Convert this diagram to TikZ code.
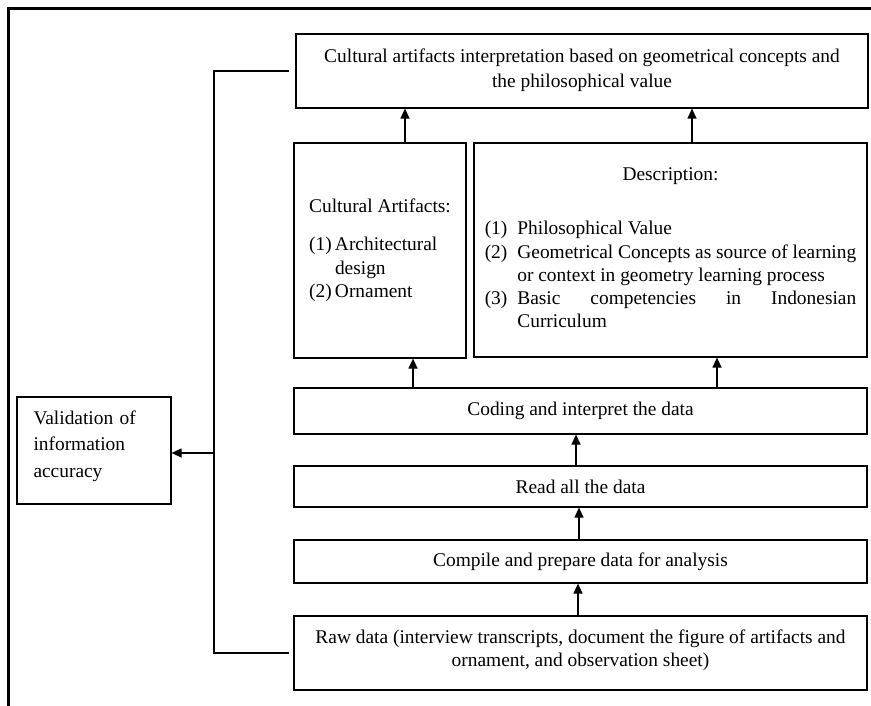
\documentclass[tikz,border=0pt]{standalone}
\usepackage{fontspec}
\setmainfont{Liberation Serif}
\usetikzlibrary{arrows.meta}
\newlength\desclen

\tikzset{
  flowbox/.style={draw, line width=1.2pt, inner sep=0pt, align=center,
    font=\fontsize{19.4}{25}\selectfont},
  wide/.style={flowbox, minimum width=573pt},
}

\begin{document}
\begin{tikzpicture}[x=1pt, y=-1pt, line width=1.2pt, >={Triangle[width=9pt,length=10pt]}]
  \useasboundingbox (0,0) rectangle (871,706);
  % Rahmen oben und links
  \draw[line width=3pt] (8,706) -- (8,9) -- (871,9);

  % Kaesten
  \node[flowbox, minimum width=572pt, minimum height=74pt] (interp) at (582,71)
    {Cultural artifacts interpretation based on geometrical concepts and\\the philosophical value\rule[-6pt]{0pt}{0pt}};
  \node[flowbox, minimum width=172pt, minimum height=215pt, font=\fontsize{19.4}{23.5}\selectfont] (artif) at (380,250.5)
    {\begin{tabular}{@{}l@{\,}l@{}}\multicolumn{2}{@{}l@{}}{Cultural Artifacts:}\\[15pt]
      (1)&Architectural\\&design\\(2)&Ornament\end{tabular}};
  \node[flowbox, minimum width=393pt, minimum height=214pt, font=\fontsize{19.4}{23.25}\selectfont] (descr) at (670.5,250)
    {\settowidth{\desclen}{Geometrical Concepts as source of learning}%
     \begin{tabular}{@{}l@{\hspace{10pt}}l@{}}\multicolumn{2}{c}{Description:}\\[31pt]
      (1)&Philosophical Value\\
      (2)&Geometrical Concepts as source of learning\\
      &or context in geometry learning process\\
      (3)&\makebox[\desclen][s]{Basic competencies in Indonesian}\\
      &Curriculum\rule[-8pt]{0pt}{0pt}\end{tabular}};
  \node[wide, minimum height=46pt] (code) at (580.5,411) {Coding and interpret the data};
  \node[wide, minimum height=41pt] (read) at (580.5,486.5) {Read all the data};
  \node[wide, minimum height=43pt] (comp) at (580.5,561.5) {Compile and prepare data for analysis};
  \node[wide, minimum height=74pt, font=\fontsize{19.4}{23}\selectfont] (raw) at (580.5,653)
    {Raw data (interview transcripts, document the figure of artifacts and\\ornament, and observation sheet)\rule[-9pt]{0pt}{0pt}};
  \node[flowbox, minimum width=154pt, minimum height=107pt, text width=121pt, align=left,
    font=\fontsize{19.4}{26.5}\selectfont] (valid) at (94,450.5)
    {Validation of\\information\\accuracy\rule[-13pt]{0pt}{0pt}};

  % Pfeile nach oben
  \draw[->] ([xshift=25pt]artif.north) -- ([xshift=25pt]artif.north |- interp.south);
  \draw[->] ([xshift=21.5pt]descr.north) -- ([xshift=21.5pt]descr.north |- interp.south);
  \draw[->] ([xshift=33pt]artif.south |- code.north) -- ([xshift=33pt]artif.south);
  \draw[->] ([xshift=46.5pt]descr.south |- code.north) -- ([xshift=46.5pt]descr.south);
  \draw[->] ([xshift=-4.5pt]read.north) -- ([xshift=-4.5pt]code.south);
  \draw[->] ([xshift=-1.5pt]comp.north) -- ([xshift=-1.5pt]read.south);
  \draw[->] ([xshift=-2.5pt]raw.north) -- ([xshift=-2.5pt]comp.south);

  % Rueckkopplung zur Validierung
  \coordinate (fb) at (214,453);
  \draw ([xshift=-4pt]raw.west) -| (fb) |- ([xshift=-6pt]interp.west);
  \draw[->] (fb) -- (fb -| valid.east);
\end{tikzpicture}
\end{document}
